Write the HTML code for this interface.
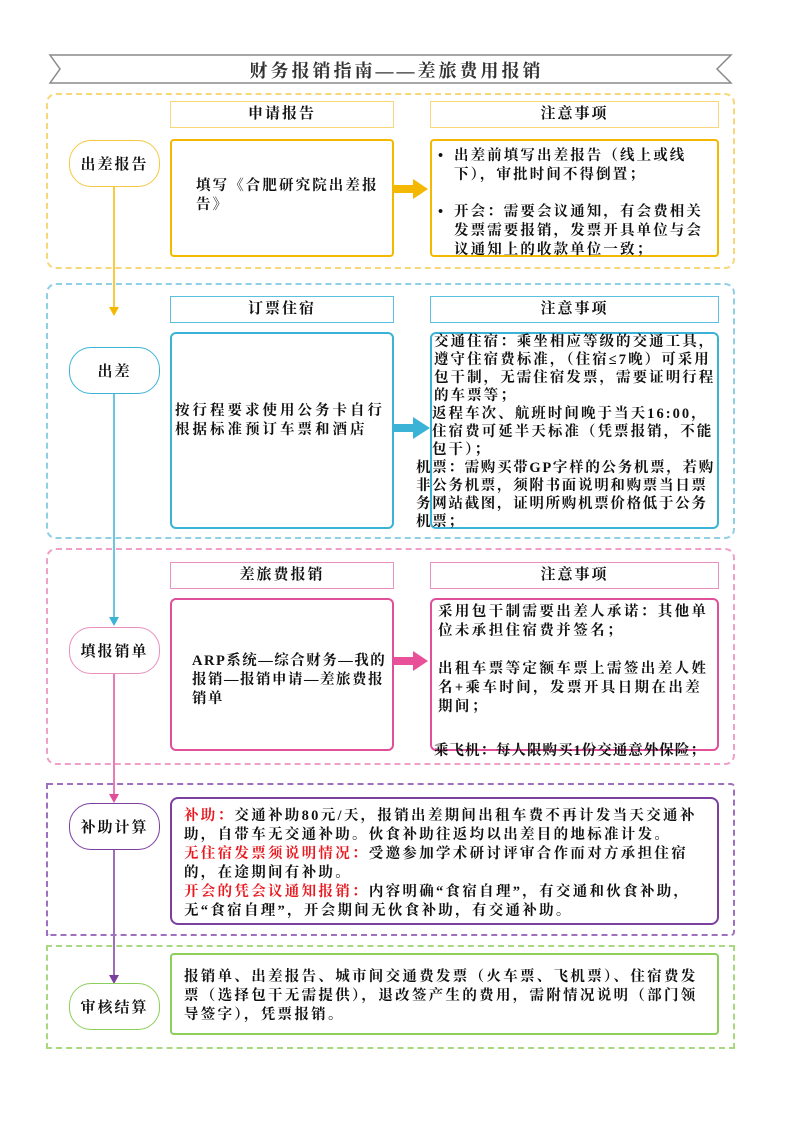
<!DOCTYPE html>
<html><head><meta charset="utf-8">
<style>
html,body{margin:0;padding:0;background:#fff;}
body{width:793px;height:1122px;position:relative;overflow:hidden;font-family:"Liberation Serif","Noto Serif CJK SC","Noto Sans CJK SC",serif;color:#111;}
.a{position:absolute;box-sizing:border-box;}
.sec{border:2px dashed;border-radius:10px;}
.hd{border:1.5px solid;text-align:center;font-size:15px;font-weight:bold;line-height:24px;letter-spacing:2px;}
.bx{border:2.5px solid;border-radius:4px;font-size:14.5px;font-weight:bold;line-height:19px;letter-spacing:2.1px;}
.ov{border:1.5px solid;border-radius:22px;text-align:center;font-size:15px;font-weight:bold;letter-spacing:2px;background:#fff;display:flex;align-items:center;justify-content:center;}
.r{color:#e8181e;}
</style></head><body>
<svg class="a" style="left:0;top:0" width="793" height="1122">
<polygon points="50,55 731,55 717,69 731,83 50,83 60,69" fill="#fff" stroke="#8a8a8a" stroke-width="1.5"/>
<line x1="114" y1="186" x2="114" y2="310" stroke="#f5b800" stroke-width="1.5"/>
<polygon points="109,307 119,307 114,316" fill="#f5b800"/>
<line x1="114" y1="393" x2="114" y2="620" stroke="#3bb3d6" stroke-width="1.5"/>
<polygon points="109,617 119,617 114,626" fill="#3bb3d6"/>
<line x1="114" y1="673" x2="114" y2="797" stroke="#e0509a" stroke-width="1.5"/>
<polygon points="109,794 119,794 114,803" fill="#e0509a"/>
<line x1="114" y1="850" x2="114" y2="977" stroke="#7b3fa0" stroke-width="1.5"/>
<polygon points="109,975 119,975 114,984" fill="#7b3fa0"/>
<polygon points="393,185 413,185 413,179 428,189 413,199 413,193 393,193" fill="#f5b800"/>
<polygon points="393,424 413,424 413,417 430,428 413,439 413,432 393,432" fill="#3bb3d6"/>
<polygon points="393,657 413,657 413,651 428,661 413,671 413,665 393,665" fill="#e8509a"/>
</svg>
<div class="a" style="left:0;top:57px;width:793px;text-align:center;font-size:18px;font-weight:bold;letter-spacing:3px;color:#333;">财务报销指南——差旅费用报销</div>

<!-- section 1 -->
<div class="a sec" style="left:46px;top:93px;width:689px;height:176px;border-color:#f8d77a;"></div>
<div class="a hd" style="left:170px;top:101px;width:224px;height:27px;border-color:#f8d77a;">申请报告</div>
<div class="a hd" style="left:430px;top:101px;width:289px;height:27px;border-color:#f8d77a;">注意事项</div>
<div class="a bx" style="left:170px;top:139px;width:224px;height:118px;border-color:#f5b800;padding:36px 10px 0 24px;">填写《合肥研究院出差报告》</div>
<div class="a bx" style="left:430px;top:139px;width:289px;height:118px;border-color:#f5b800;padding:6px 8px 0 6px;">
<div style="display:flex"><span style="width:16px">•</span><span style="flex:1">出差前填写出差报告（线上或线下），审批时间不得倒置；</span></div>
<div style="display:flex;margin-top:18px"><span style="width:16px">•</span><span style="flex:1">开会：需要会议通知，有会费相关发票需要报销，发票开具单位与会议通知上的收款单位一致；</span></div>
</div>
<div class="a ov" style="left:69px;top:140px;width:91px;height:47px;border-color:#f5c842;">出差报告</div>

<!-- section 2 -->
<div class="a sec" style="left:46px;top:283px;width:689px;height:256px;border-color:#8fd0e6;"></div>
<div class="a hd" style="left:170px;top:296px;width:224px;height:27px;border-color:#5bbfe0;">订票住宿</div>
<div class="a hd" style="left:430px;top:296px;width:289px;height:27px;border-color:#5bbfe0;">注意事项</div>
<div class="a bx" style="left:170px;top:332px;width:224px;height:197px;border-color:#3bb3d6;padding:68px 4px 0 3px;border-radius:6px;letter-spacing:3px;">按行程要求使用公务卡自行根据标准预订车票和酒店</div>
<div class="a bx" style="left:430px;top:332px;width:289px;height:197px;border-color:#3bb3d6;border-radius:6px;border-width:2px;"></div>
<div class="a" style="left:416px;top:333px;width:304px;font-size:14.5px;font-weight:bold;line-height:18px;letter-spacing:2.05px;">
<div style="padding-left:18px">交通住宿：乘坐相应等级的交通工具，遵守住宿费标准，（住宿≤7晚）可采用包干制，无需住宿发票，需要证明行程的车票等；</div>
<div style="padding-left:16px">返程车次、航班时间晚于当天16:00，住宿费可延半天标准（凭票报销，不能包干）；</div>
<div style="letter-spacing:1.7px">机票：需购买带GP字样的公务机票，若购非公务机票，须附书面说明和购票当日票务网站截图，证明所购机票价格低于公务机票；</div>
</div>
<div class="a ov" style="left:69px;top:347px;width:91px;height:47px;border-color:#3bb3d6;">出差</div>

<!-- section 3 -->
<div class="a sec" style="left:46px;top:548px;width:689px;height:217px;border-color:#f0a0c8;"></div>
<div class="a hd" style="left:170px;top:562px;width:224px;height:27px;border-color:#e890bf;">差旅费报销</div>
<div class="a hd" style="left:430px;top:562px;width:289px;height:27px;border-color:#e890bf;">注意事项</div>
<div class="a bx" style="left:170px;top:598px;width:224px;height:153px;border-color:#e0509a;padding:52px 4px 0 20px;border-radius:6px;letter-spacing:1.5px;">ARP系统—综合财务—我的报销—报销申请—差旅费报销单</div>
<div class="a bx" style="left:430px;top:598px;width:289px;height:153px;border-color:#e0509a;border-radius:6px;padding:3px 2px 0 6px;letter-spacing:2.4px;">
<div>采用包干制需要出差人承诺：其他单位未承担住宿费并签名；</div>
<div style="margin-top:19px">出租车票等定额车票上需签出差人姓名+乘车时间，发票开具日期在出差期间；</div>
<div style="margin-top:25px;margin-left:-4px;letter-spacing:1px;white-space:nowrap">乘飞机：每人限购买1份交通意外保险；</div>
</div>
<div class="a ov" style="left:69px;top:627px;width:91px;height:47px;border-color:#e890bf;">填报销单</div>

<!-- section 4 -->
<div class="a sec" style="left:46px;top:783px;width:689px;height:153px;border-color:#a070c0;border-radius:0 4px 4px 0;"></div>
<div class="a bx" style="left:170px;top:797px;width:549px;height:128px;border-color:#7b3fa0;border-radius:8px;padding:8px 8px 0 12px;letter-spacing:2.3px;">
<span class="r">补助：</span>交通补助80元/天，报销出差期间出租车费不再计发当天交通补助，自带车无交通补助。伙食补助往返均以出差目的地标准计发。<br>
<span class="r">无住宿发票须说明情况：</span>受邀参加学术研讨评审合作而对方承担住宿的，在途期间有补助。<br>
<span class="r">开会的凭会议通知报销：</span>内容明确“食宿自理”，有交通和伙食补助，无“食宿自理”，开会期间无伙食补助，有交通补助。
</div>
<div class="a ov" style="left:69px;top:803px;width:91px;height:47px;border-color:#7b3fa0;">补助计算</div>

<!-- section 5 -->
<div class="a sec" style="left:46px;top:945px;width:689px;height:104px;border-color:#a8d880;border-radius:0;"></div>
<div class="a bx" style="left:170px;top:953px;width:549px;height:82px;border-color:#8ccf5a;border-radius:4px;padding:13px 8px 0 12px;letter-spacing:2.3px;">报销单、出差报告、城市间交通费发票（火车票、飞机票）、住宿费发票（选择包干无需提供），退改签产生的费用，需附情况说明（部门领导签字），凭票报销。</div>
<div class="a ov" style="left:69px;top:983px;width:91px;height:47px;border-color:#8ccf5a;">审核结算</div>
</body></html>
